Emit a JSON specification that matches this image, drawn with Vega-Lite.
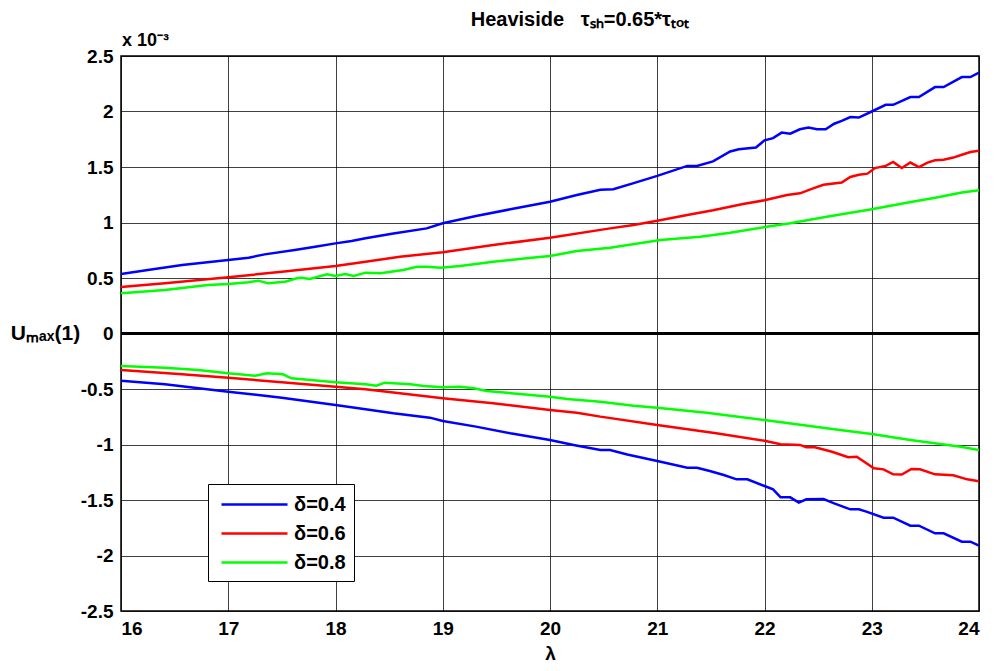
{
  "$schema": "https://vega.github.io/schema/vega-lite/v6.json",
  "width": 858,
  "height": 555,
  "autosize": {"type": "none"},
  "padding": {"left": 121, "top": 56, "right": 18, "bottom": 60},
  "background": "white",
  "config": {
    "font": "Liberation Sans",
    "view": {"stroke": "black", "strokeWidth": 1.5},
    "axis": {
      "grid": true,
      "gridColor": "#000",
      "gridWidth": 1,
      "gridOpacity": 0.75,
      "domain": false,
      "ticks": false,
      "labelOverlap": false,
      "labelFont": "Liberation Sans",
      "labelFontWeight": "bold",
      "labelFontSize": 19,
      "labelColor": "black",
      "titleFont": "Liberation Sans",
      "titleFontWeight": "bold",
      "titleColor": "black"
    }
  },
  "title": {
    "text": "Heaviside\u00a0\u00a0\u00a0τₛₕ=0.65*τₜₒₜ",
    "font": "Liberation Sans",
    "fontSize": 20,
    "fontWeight": "bold",
    "color": "black",
    "anchor": "middle",
    "dx": 30,
    "offset": 2
  },
  "layer": [
    {
      "data": {
        "values": [
          {"d":"δ=0.4","b":"up","x":16,"y":0.536},{"d":"δ=0.4","b":"up","x":16.25,"y":0.572},{"d":"δ=0.4","b":"up","x":16.57,"y":0.617},{"d":"δ=0.4","b":"up","x":16.85,"y":0.647},{"d":"δ=0.4","b":"up","x":17,"y":0.662},{"d":"δ=0.4","b":"up","x":17.19,"y":0.683},{"d":"δ=0.4","b":"up","x":17.34,"y":0.713},{"d":"δ=0.4","b":"up","x":17.62,"y":0.752},{"d":"δ=0.4","b":"up","x":17.81,"y":0.782},{"d":"δ=0.4","b":"up","x":18,"y":0.812},{"d":"δ=0.4","b":"up","x":18.15,"y":0.833},{"d":"δ=0.4","b":"up","x":18.28,"y":0.858},{"d":"δ=0.4","b":"up","x":18.54,"y":0.9},{"d":"δ=0.4","b":"up","x":18.85,"y":0.947},{"d":"δ=0.4","b":"up","x":19,"y":0.993},{"d":"δ=0.4","b":"up","x":19.31,"y":1.058},{"d":"δ=0.4","b":"up","x":19.63,"y":1.119},{"d":"δ=0.4","b":"up","x":20,"y":1.187},{"d":"δ=0.4","b":"up","x":20.25,"y":1.248},{"d":"δ=0.4","b":"up","x":20.47,"y":1.295},{"d":"δ=0.4","b":"up","x":20.59,"y":1.3},{"d":"δ=0.4","b":"up","x":20.78,"y":1.355},{"d":"δ=0.4","b":"up","x":21,"y":1.42},{"d":"δ=0.4","b":"up","x":21.28,"y":1.51},{"d":"δ=0.4","b":"up","x":21.37,"y":1.51},{"d":"δ=0.4","b":"up","x":21.52,"y":1.55},{"d":"δ=0.4","b":"up","x":21.68,"y":1.64},{"d":"δ=0.4","b":"up","x":21.76,"y":1.66},{"d":"δ=0.4","b":"up","x":21.92,"y":1.675},{"d":"δ=0.4","b":"up","x":22,"y":1.74},{"d":"δ=0.4","b":"up","x":22.08,"y":1.76},{"d":"δ=0.4","b":"up","x":22.16,"y":1.81},{"d":"δ=0.4","b":"up","x":22.24,"y":1.8},{"d":"δ=0.4","b":"up","x":22.33,"y":1.84},{"d":"δ=0.4","b":"up","x":22.41,"y":1.855},{"d":"δ=0.4","b":"up","x":22.49,"y":1.84},{"d":"δ=0.4","b":"up","x":22.57,"y":1.84},{"d":"δ=0.4","b":"up","x":22.65,"y":1.89},{"d":"δ=0.4","b":"up","x":22.72,"y":1.915},{"d":"δ=0.4","b":"up","x":22.8,"y":1.95},{"d":"δ=0.4","b":"up","x":22.88,"y":1.945},{"d":"δ=0.4","b":"up","x":23,"y":2.0},{"d":"δ=0.4","b":"up","x":23.13,"y":2.06},{"d":"δ=0.4","b":"up","x":23.2,"y":2.06},{"d":"δ=0.4","b":"up","x":23.36,"y":2.13},{"d":"δ=0.4","b":"up","x":23.44,"y":2.13},{"d":"δ=0.4","b":"up","x":23.59,"y":2.22},{"d":"δ=0.4","b":"up","x":23.67,"y":2.22},{"d":"δ=0.4","b":"up","x":23.84,"y":2.31},{"d":"δ=0.4","b":"up","x":23.92,"y":2.31},{"d":"δ=0.4","b":"up","x":24,"y":2.35},
          {"d":"δ=0.6","b":"up","x":16,"y":0.42},{"d":"δ=0.6","b":"up","x":16.41,"y":0.452},{"d":"δ=0.6","b":"up","x":17,"y":0.506},{"d":"δ=0.6","b":"up","x":17.5,"y":0.557},{"d":"δ=0.6","b":"up","x":18,"y":0.608},{"d":"δ=0.6","b":"up","x":18.28,"y":0.647},{"d":"δ=0.6","b":"up","x":18.6,"y":0.692},{"d":"δ=0.6","b":"up","x":19,"y":0.732},{"d":"δ=0.6","b":"up","x":19.47,"y":0.797},{"d":"δ=0.6","b":"up","x":20,"y":0.863},{"d":"δ=0.6","b":"up","x":20.56,"y":0.947},{"d":"δ=0.6","b":"up","x":20.78,"y":0.977},{"d":"δ=0.6","b":"up","x":21,"y":1.016},{"d":"δ=0.6","b":"up","x":21.28,"y":1.067},{"d":"δ=0.6","b":"up","x":21.52,"y":1.11},{"d":"δ=0.6","b":"up","x":21.8,"y":1.167},{"d":"δ=0.6","b":"up","x":22,"y":1.2},{"d":"δ=0.6","b":"up","x":22.21,"y":1.248},{"d":"δ=0.6","b":"up","x":22.33,"y":1.263},{"d":"δ=0.6","b":"up","x":22.46,"y":1.31},{"d":"δ=0.6","b":"up","x":22.55,"y":1.34},{"d":"δ=0.6","b":"up","x":22.72,"y":1.36},{"d":"δ=0.6","b":"up","x":22.8,"y":1.41},{"d":"δ=0.6","b":"up","x":22.88,"y":1.43},{"d":"δ=0.6","b":"up","x":22.96,"y":1.44},{"d":"δ=0.6","b":"up","x":23.03,"y":1.49},{"d":"δ=0.6","b":"up","x":23.13,"y":1.51},{"d":"δ=0.6","b":"up","x":23.2,"y":1.545},{"d":"δ=0.6","b":"up","x":23.28,"y":1.49},{"d":"δ=0.6","b":"up","x":23.36,"y":1.54},{"d":"δ=0.6","b":"up","x":23.44,"y":1.5},{"d":"δ=0.6","b":"up","x":23.52,"y":1.54},{"d":"δ=0.6","b":"up","x":23.59,"y":1.56},{"d":"δ=0.6","b":"up","x":23.67,"y":1.565},{"d":"δ=0.6","b":"up","x":23.76,"y":1.585},{"d":"δ=0.6","b":"up","x":23.84,"y":1.61},{"d":"δ=0.6","b":"up","x":23.92,"y":1.635},{"d":"δ=0.6","b":"up","x":24,"y":1.647},
          {"d":"δ=0.8","b":"up","x":16,"y":0.362},{"d":"δ=0.8","b":"up","x":16.41,"y":0.392},{"d":"δ=0.8","b":"up","x":16.81,"y":0.437},{"d":"δ=0.8","b":"up","x":17,"y":0.446},{"d":"δ=0.8","b":"up","x":17.19,"y":0.461},{"d":"δ=0.8","b":"up","x":17.28,"y":0.476},{"d":"δ=0.8","b":"up","x":17.37,"y":0.452},{"d":"δ=0.8","b":"up","x":17.53,"y":0.467},{"d":"δ=0.8","b":"up","x":17.64,"y":0.497},{"d":"δ=0.8","b":"up","x":17.68,"y":0.503},{"d":"δ=0.8","b":"up","x":17.76,"y":0.491},{"d":"δ=0.8","b":"up","x":17.92,"y":0.533},{"d":"δ=0.8","b":"up","x":18,"y":0.518},{"d":"δ=0.8","b":"up","x":18.09,"y":0.536},{"d":"δ=0.8","b":"up","x":18.17,"y":0.518},{"d":"δ=0.8","b":"up","x":18.28,"y":0.548},{"d":"δ=0.8","b":"up","x":18.42,"y":0.542},{"d":"δ=0.8","b":"up","x":18.63,"y":0.572},{"d":"δ=0.8","b":"up","x":18.76,"y":0.602},{"d":"δ=0.8","b":"up","x":18.85,"y":0.602},{"d":"δ=0.8","b":"up","x":18.98,"y":0.593},{"d":"δ=0.8","b":"up","x":19.16,"y":0.608},{"d":"δ=0.8","b":"up","x":19.31,"y":0.626},{"d":"δ=0.8","b":"up","x":19.47,"y":0.647},{"d":"δ=0.8","b":"up","x":19.78,"y":0.677},{"d":"δ=0.8","b":"up","x":20,"y":0.698},{"d":"δ=0.8","b":"up","x":20.25,"y":0.743},{"d":"δ=0.8","b":"up","x":20.56,"y":0.773},{"d":"δ=0.8","b":"up","x":21.03,"y":0.842},{"d":"δ=0.8","b":"up","x":21.4,"y":0.872},{"d":"δ=0.8","b":"up","x":21.68,"y":0.908},{"d":"δ=0.8","b":"up","x":22.02,"y":0.962},{"d":"δ=0.8","b":"up","x":22.24,"y":0.993},{"d":"δ=0.8","b":"up","x":22.58,"y":1.052},{"d":"δ=0.8","b":"up","x":22.86,"y":1.097},{"d":"δ=0.8","b":"up","x":23,"y":1.12},{"d":"δ=0.8","b":"up","x":23.39,"y":1.19},{"d":"δ=0.8","b":"up","x":23.58,"y":1.22},{"d":"δ=0.8","b":"up","x":23.84,"y":1.27},{"d":"δ=0.8","b":"up","x":24,"y":1.29},
          {"d":"δ=0.4","b":"dn","x":16,"y":-0.425},{"d":"δ=0.4","b":"dn","x":16.41,"y":-0.458},{"d":"δ=0.4","b":"dn","x":17,"y":-0.524},{"d":"δ=0.4","b":"dn","x":17.5,"y":-0.578},{"d":"δ=0.4","b":"dn","x":18,"y":-0.644},{"d":"δ=0.4","b":"dn","x":18.28,"y":-0.683},{"d":"δ=0.4","b":"dn","x":18.54,"y":-0.719},{"d":"δ=0.4","b":"dn","x":18.88,"y":-0.758},{"d":"δ=0.4","b":"dn","x":19,"y":-0.788},{"d":"δ=0.4","b":"dn","x":19.31,"y":-0.839},{"d":"δ=0.4","b":"dn","x":19.63,"y":-0.899},{"d":"δ=0.4","b":"dn","x":20,"y":-0.959},{"d":"δ=0.4","b":"dn","x":20.22,"y":-1.004},{"d":"δ=0.4","b":"dn","x":20.47,"y":-1.05},{"d":"δ=0.4","b":"dn","x":20.56,"y":-1.05},{"d":"δ=0.4","b":"dn","x":20.72,"y":-1.09},{"d":"δ=0.4","b":"dn","x":21,"y":-1.149},{"d":"δ=0.4","b":"dn","x":21.28,"y":-1.209},{"d":"δ=0.4","b":"dn","x":21.37,"y":-1.209},{"d":"δ=0.4","b":"dn","x":21.49,"y":-1.239},{"d":"δ=0.4","b":"dn","x":21.62,"y":-1.275},{"d":"δ=0.4","b":"dn","x":21.74,"y":-1.314},{"d":"δ=0.4","b":"dn","x":21.84,"y":-1.314},{"d":"δ=0.4","b":"dn","x":22,"y":-1.374},{"d":"δ=0.4","b":"dn","x":22.08,"y":-1.404},{"d":"δ=0.4","b":"dn","x":22.15,"y":-1.476},{"d":"δ=0.4","b":"dn","x":22.24,"y":-1.476},{"d":"δ=0.4","b":"dn","x":22.32,"y":-1.524},{"d":"δ=0.4","b":"dn","x":22.39,"y":-1.494},{"d":"δ=0.4","b":"dn","x":22.55,"y":-1.491},{"d":"δ=0.4","b":"dn","x":22.65,"y":-1.53},{"d":"δ=0.4","b":"dn","x":22.8,"y":-1.584},{"d":"δ=0.4","b":"dn","x":22.88,"y":-1.584},{"d":"δ=0.4","b":"dn","x":22.95,"y":-1.605},{"d":"δ=0.4","b":"dn","x":23.11,"y":-1.659},{"d":"δ=0.4","b":"dn","x":23.2,"y":-1.659},{"d":"δ=0.4","b":"dn","x":23.36,"y":-1.731},{"d":"δ=0.4","b":"dn","x":23.44,"y":-1.731},{"d":"δ=0.4","b":"dn","x":23.59,"y":-1.8},{"d":"δ=0.4","b":"dn","x":23.67,"y":-1.8},{"d":"δ=0.4","b":"dn","x":23.84,"y":-1.875},{"d":"δ=0.4","b":"dn","x":23.92,"y":-1.875},{"d":"δ=0.4","b":"dn","x":24,"y":-1.91},
          {"d":"δ=0.6","b":"dn","x":16,"y":-0.329},{"d":"δ=0.6","b":"dn","x":16.57,"y":-0.368},{"d":"δ=0.6","b":"dn","x":17,"y":-0.398},{"d":"δ=0.6","b":"dn","x":17.5,"y":-0.44},{"d":"δ=0.6","b":"dn","x":18,"y":-0.479},{"d":"δ=0.6","b":"dn","x":18.28,"y":-0.503},{"d":"δ=0.6","b":"dn","x":19,"y":-0.584},{"d":"δ=0.6","b":"dn","x":19.47,"y":-0.629},{"d":"δ=0.6","b":"dn","x":20,"y":-0.689},{"d":"δ=0.6","b":"dn","x":20.25,"y":-0.713},{"d":"δ=0.6","b":"dn","x":20.47,"y":-0.749},{"d":"δ=0.6","b":"dn","x":21,"y":-0.824},{"d":"δ=0.6","b":"dn","x":21.55,"y":-0.899},{"d":"δ=0.6","b":"dn","x":22,"y":-0.966},{"d":"δ=0.6","b":"dn","x":22.15,"y":-0.998},{"d":"δ=0.6","b":"dn","x":22.33,"y":-1.004},{"d":"δ=0.6","b":"dn","x":22.39,"y":-1.025},{"d":"δ=0.6","b":"dn","x":22.47,"y":-1.025},{"d":"δ=0.6","b":"dn","x":22.63,"y":-1.065},{"d":"δ=0.6","b":"dn","x":22.78,"y":-1.115},{"d":"δ=0.6","b":"dn","x":22.86,"y":-1.11},{"d":"δ=0.6","b":"dn","x":23.02,"y":-1.215},{"d":"δ=0.6","b":"dn","x":23.11,"y":-1.224},{"d":"δ=0.6","b":"dn","x":23.2,"y":-1.269},{"d":"δ=0.6","b":"dn","x":23.28,"y":-1.27},{"d":"δ=0.6","b":"dn","x":23.37,"y":-1.221},{"d":"δ=0.6","b":"dn","x":23.45,"y":-1.224},{"d":"δ=0.6","b":"dn","x":23.59,"y":-1.269},{"d":"δ=0.6","b":"dn","x":23.76,"y":-1.278},{"d":"δ=0.6","b":"dn","x":23.89,"y":-1.314},{"d":"δ=0.6","b":"dn","x":24,"y":-1.332},
          {"d":"δ=0.8","b":"dn","x":16,"y":-0.293},{"d":"δ=0.8","b":"dn","x":16.41,"y":-0.308},{"d":"δ=0.8","b":"dn","x":16.72,"y":-0.329},{"d":"δ=0.8","b":"dn","x":17,"y":-0.359},{"d":"δ=0.8","b":"dn","x":17.25,"y":-0.38},{"d":"δ=0.8","b":"dn","x":17.36,"y":-0.359},{"d":"δ=0.8","b":"dn","x":17.51,"y":-0.368},{"d":"δ=0.8","b":"dn","x":17.59,"y":-0.404},{"d":"δ=0.8","b":"dn","x":18,"y":-0.44},{"d":"δ=0.8","b":"dn","x":18.28,"y":-0.458},{"d":"δ=0.8","b":"dn","x":18.38,"y":-0.47},{"d":"δ=0.8","b":"dn","x":18.46,"y":-0.443},{"d":"δ=0.8","b":"dn","x":18.7,"y":-0.458},{"d":"δ=0.8","b":"dn","x":18.82,"y":-0.473},{"d":"δ=0.8","b":"dn","x":19,"y":-0.485},{"d":"δ=0.8","b":"dn","x":19.16,"y":-0.479},{"d":"δ=0.8","b":"dn","x":19.29,"y":-0.494},{"d":"δ=0.8","b":"dn","x":19.41,"y":-0.518},{"d":"δ=0.8","b":"dn","x":19.72,"y":-0.545},{"d":"δ=0.8","b":"dn","x":20,"y":-0.569},{"d":"δ=0.8","b":"dn","x":20.16,"y":-0.59},{"d":"δ=0.8","b":"dn","x":20.47,"y":-0.614},{"d":"δ=0.8","b":"dn","x":20.78,"y":-0.65},{"d":"δ=0.8","b":"dn","x":21,"y":-0.668},{"d":"δ=0.8","b":"dn","x":21.46,"y":-0.713},{"d":"δ=0.8","b":"dn","x":22,"y":-0.779},{"d":"δ=0.8","b":"dn","x":22.65,"y":-0.863},{"d":"δ=0.8","b":"dn","x":23,"y":-0.905},{"d":"δ=0.8","b":"dn","x":23.36,"y":-0.959},{"d":"δ=0.8","b":"dn","x":23.83,"y":-1.02},{"d":"δ=0.8","b":"dn","x":24,"y":-1.05}
        ]
      },
      "mark": {"type": "line", "strokeWidth": 2.5, "clip": true},
      "encoding": {
        "x": {
          "field": "x", "type": "quantitative",
          "scale": {"domain": [16, 24], "nice": false, "zero": false},
          "axis": {
            "values": [16, 17, 18, 19, 20, 21, 22, 23, 24],
            "labelExpr": "'' + datum.value",
            "labelPadding": 8,
            "title": "λ",
            "titleFontSize": 19,
            "titlePadding": 6
          }
        },
        "y": {
          "field": "y", "type": "quantitative",
          "scale": {"domain": [-2.5, 2.5], "nice": false, "zero": false},
          "axis": {
            "values": [-2.5, -2, -1.5, -1, -0.5, 0, 0.5, 1, 1.5, 2, 2.5],
            "labelExpr": "'' + datum.value",
            "labelPadding": 8,
            "title": "Uₘₐₓ(1)",
            "titleFontSize": 21,
            "titleAngle": 0,
            "titleAlign": "center",
            "titleBaseline": "middle",
            "titleX": -76,
            "titleY": 277
          }
        },
        "color": {
          "field": "d", "type": "nominal",
          "scale": {"domain": ["δ=0.4", "δ=0.6", "δ=0.8"], "range": ["#0000ff", "#ff0000", "#00ff00"]},
          "legend": {
            "title": null,
            "orient": "none",
            "legendX": 87,
            "legendY": 428,
            "symbolType": "M-3,0H3",
            "symbolSize": 484,
            "symbolOffset": 26,
            "symbolStrokeWidth": 2.5,
            "labelFont": "Liberation Sans",
            "labelFontSize": 20,
            "labelFontWeight": "bold",
            "labelColor": "black",
            "labelOffset": 27,
            "rowPadding": 6,
            "padding": 8,
            "strokeColor": "black",
            "fillColor": "white"
          }
        },
        "detail": {"field": "b", "type": "nominal"}
      }
    },
    {
      "data": {"values": [{"v": 0}]},
      "mark": {"type": "rule", "strokeWidth": 3, "color": "black"},
      "encoding": {"y": {"field": "v", "type": "quantitative"}}
    },
    {
      "data": {"values": [{"t": "x 10⁻³", "x": 16, "y": 2.5}]},
      "mark": {"type": "text", "align": "left", "baseline": "bottom", "dy": -6, "dx": 1, "fontSize": 18, "fontWeight": "bold", "font": "Liberation Sans", "color": "black"},
      "encoding": {
        "x": {"field": "x", "type": "quantitative"},
        "y": {"field": "y", "type": "quantitative"},
        "text": {"field": "t"}
      }
    }
  ]
}
